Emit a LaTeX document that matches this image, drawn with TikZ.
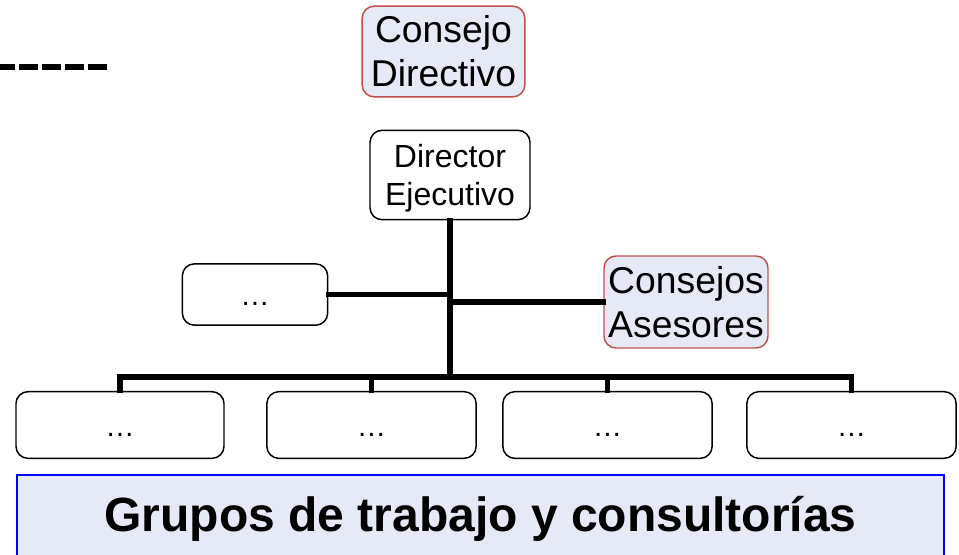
\documentclass[tikz,border=0pt]{standalone}
\usepackage{fontspec}
\setmainfont{Liberation Sans}
\definecolor{lav}{HTML}{E6E9F6}
\definecolor{redb}{HTML}{C0504D}
\definecolor{blueb}{HTML}{0000FF}
\begin{document}
\begin{tikzpicture}[x=0.75pt,y=-0.75pt,
  box/.style={draw=black,line width=1.1pt,rounded corners=9pt,fill=white,inner sep=0pt,align=center},
  redbox/.style={draw=redb,line width=1.1pt,rounded corners=9pt,fill=lav,inner sep=0pt,align=center},
  conn/.style={line width=3.8pt,line cap=rect},
  big/.style={font=\fontsize{28}{33}\selectfont},
  mid/.style={font=\fontsize{24}{28.5}\selectfont,text depth=0pt},
  dots/.style={font=\fontsize{22}{24}\selectfont,text height=17pt,text depth=0pt}]
\clip (0,0) rectangle (959,554);
\fill[white] (0,0) rectangle (959,554);
% dashed line
\coordinate (d0) at (0,67);
\coordinate (d1) at (107,67);
\draw[line width=4.5pt,dash pattern=on 14.25pt off 3pt,dash phase=3pt] (d0) -- (d1);
% nodes
\node[redbox,big,minimum width=122pt,minimum height=68pt] (cd) at (443.5,51.5) {Consejo\\Directivo};
\node[box,mid,minimum width=120pt,minimum height=67pt] (de) at (450,175) {Director\\Ejecutivo};
\node[box,dots,minimum width=109pt,minimum height=46pt] (l) at (255,294.5) {\dots};
\node[redbox,big,minimum width=123pt,minimum height=69pt] (ca) at (686,302) {Consejos\\Asesores};
\node[box,dots,minimum width=156pt,minimum height=50pt] (b1) at (120,425) {\dots};
\node[box,dots,minimum width=157pt,minimum height=50pt] (b2) at (371.5,425) {\dots};
\node[box,dots,minimum width=157pt,minimum height=50pt] (b3) at (607.5,425) {\dots};
\node[box,dots,minimum width=157pt,minimum height=50pt] (b4) at (851.5,425) {\dots};
\node[draw=blueb,line width=1.5pt,fill=lav,inner sep=0pt,minimum width=695pt,minimum height=66pt,
      font=\bfseries\fontsize{36}{40}\selectfont] (ban) at (480.5,519) {Grupos de trabajo y consultorías};
% connectors
\coordinate (busL) at (120,377);
\coordinate (busR) at (851.5,377);
\draw[conn] (de.south) -- (de.south |- busL);
\draw[conn] (l.east) -- (l.east -| de.south);
\draw[conn] (ca.west) -- (ca.west -| de.south);
\draw[conn] (busL) -- (busR);
\draw[conn] (b1.north) -- (b1.north |- busL);
\draw[conn] (b2.north) -- (b2.north |- busL);
\draw[conn] (b3.north) -- (b3.north |- busL);
\draw[conn] (b4.north) -- (b4.north |- busL);
\end{tikzpicture}
\end{document}
